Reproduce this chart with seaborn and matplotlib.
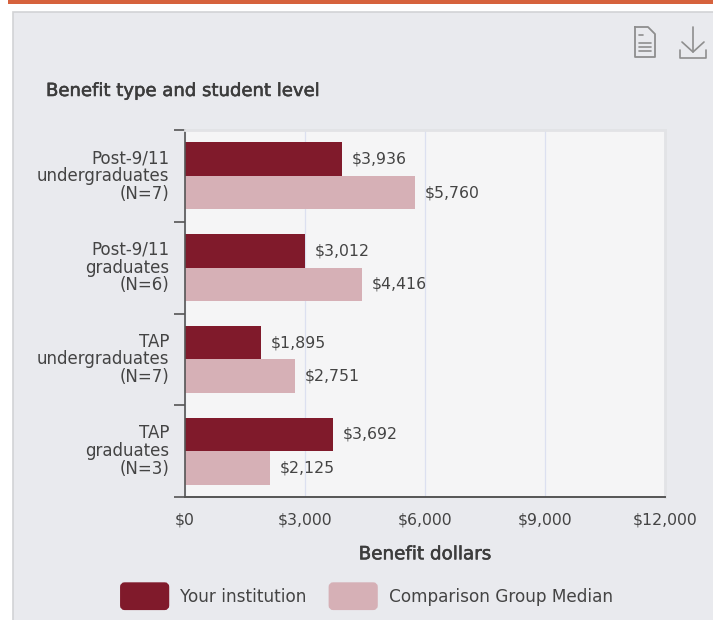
import matplotlib
matplotlib.use("Agg")
import matplotlib.pyplot as plt
import matplotlib.patheffects as pe
import pandas as pd
import seaborn as sns
from matplotlib.patches import FancyBboxPatch, Rectangle, Patch
from matplotlib.legend_handler import HandlerPatch
from matplotlib.lines import Line2D

categories = ["Post-9/11\nundergraduates\n(N=7)", "Post-9/11\ngraduates\n(N=6)",
              "TAP\nundergraduates\n(N=7)", "TAP\ngraduates\n(N=3)"]
your_institution = [3936, 3012, 1895, 3692]
comparison_median = [5760, 4416, 2751, 2125]
series_names = ["Your institution", "Comparison Group Median"]
colors = ["#801A2B", "#D6B0B6"]
x_ticks = [0, 3000, 6000, 9000, 12000]

W, H = 713, 620
PANEL = "#E9EAEE"
TXT = "#444444"
sns.set_theme(style="white")
plt.rcParams["font.family"] = ["DejaVu Sans"]

df = pd.DataFrame({
    "category": categories * 2,
    "value": your_institution + comparison_median,
    "series": [series_names[0]] * 4 + [series_names[1]] * 4,
})

fig = plt.figure(figsize=(W / 100, H / 100), dpi=100, facecolor="white")

def fx(px): return px / W
def fy(py): return 1 - py / H

# page decoration
fig.add_artist(Rectangle((fx(8), fy(4)), fx(705), 4 / H, transform=fig.transFigure, fc="#D6623D", ec="none", zorder=-5))
fig.add_artist(Rectangle((fx(13), -0.01), fx(710), fy(12) + 0.01, transform=fig.transFigure, fc=PANEL, ec="#D2D3D5", lw=1.2, zorder=-5))

ax = fig.add_axes([fx(185), fy(497), fx(480), (497 - 130) / H], facecolor="#F5F5F6")
sns.barplot(data=df, y="category", x="value", hue="series", hue_order=series_names,
            palette=colors, width=0.73, gap=0, saturation=1, ax=ax, legend=False,
            orient="h", linewidth=0)
ax.set_xlim(0, 12000)
ax.set_ylim(3.5, -0.5)
ax.set_xticks(x_ticks)
ax.set_xticklabels([f"${v:,}" for v in x_ticks], fontsize=11.3, color=TXT)
ax.set_yticks([-0.5, 0.5, 1.5, 2.5, 3.5])
ax.set_yticklabels([])
ax.tick_params(axis="x", length=0, pad=11)
ax.tick_params(axis="y", length=8, width=1.2, color="#555555", left=True)
bold = [pe.withStroke(linewidth=0.4, foreground="#3C3C3C")]
ax.set_xlabel("Benefit dollars", fontsize=13.2, color="#3C3C3C", labelpad=13, path_effects=bold)
ax.set_ylabel("")
ax.xaxis.grid(True, color="#DCE0F0", lw=0.9)
ax.set_axisbelow(True)
for s in ["top", "right"]:
    ax.spines[s].set_color("#E2E3E6")
    ax.spines[s].set_linewidth(2)
ax.spines["left"].set_color("#555555")
ax.spines["left"].set_linewidth(1.2)
ax.spines["bottom"].set_color("#555555")
ax.spines["bottom"].set_linewidth(1.4)

# category labels
for i, c in enumerate(categories):
    ax.annotate(c, (0, i), xycoords=("axes fraction", "data"), xytext=(-16, 0),
                textcoords="offset pixels", ha="right", va="center", fontsize=12,
                color=TXT, linespacing=0.98)

# value labels
for cont in ax.containers:
    ax.bar_label(cont, labels=[f"${int(v):,}" for v in cont.datavalues], padding=7,
                 fontsize=11.3, color=TXT)

fig.text(fx(46), fy(91), "Benefit type and student level", fontsize=13, color="#3C3C3C", va="center",
         path_effects=bold)

# legend
class RoundHandler(HandlerPatch):
    def create_artists(self, legend, orig, xd, yd, w, h, fs, trans):
        p = FancyBboxPatch((-xd + 2, -yd + h / 2 - 8.6), w - 4, 17.2,
                           boxstyle="round,pad=0,rounding_size=2",
                           fc=orig.get_facecolor(), ec=orig.get_facecolor(), lw=2.8, transform=trans)
        return [p]

handles = [Patch(color=c, label=n) for c, n in zip(colors, series_names)]
fig.legend(handles=handles, loc="center", bbox_to_anchor=(fx(366), fy(597)), ncol=2, frameon=False,
           fontsize=12.2, labelcolor=TXT, handlelength=3.0, handleheight=1.0, handletextpad=0.6,
           columnspacing=1.25, handler_map={Patch: RoundHandler()}, borderpad=0, borderaxespad=0)

# icons (document and download)
c = "#8E8E8E"
doc = [(635, 27), (648, 27), (655, 34), (655, 57), (635, 57), (635, 27)]
fig.add_artist(Line2D([fx(p[0]) for p in doc], [fy(p[1]) for p in doc], color=c, lw=1.3))
for y, x1 in [(35, 643), (43, 651), (47, 651), (51, 651)]:
    fig.add_artist(Line2D([fx(639), fx(x1)], [fy(y), fy(y)], color=c, lw=1.2))
for seg in [[(693, 27), (693, 52)], [(682, 42), (693, 52), (704, 42)],
            [(680, 50), (680, 58), (706, 58), (706, 50)]]:
    fig.add_artist(Line2D([fx(p[0]) for p in seg], [fy(p[1]) for p in seg], color=c, lw=1.2))

fig.savefig("out.png", dpi=100, facecolor=fig.get_facecolor())
